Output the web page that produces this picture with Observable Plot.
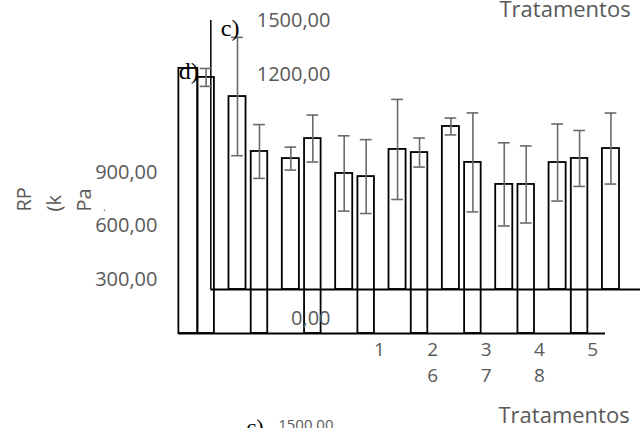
<!DOCTYPE html>
<html>
<head>
<meta charset="utf-8">
<script src="https://cdn.jsdelivr.net/npm/d3@7"></script>
<script src="https://cdn.jsdelivr.net/npm/@observablehq/plot@0.6"></script>
<style>
  html, body { margin: 0; padding: 0; background: #fff; }
  #chart svg { display: block; }
</style>
</head>
<body>
<div id="chart"></div>
<script>
// ---- data ----
// panel c) : front bars, RP (kPa)
const cValues = [1076, 730, 647, 781, 909, 586, 708, 786];
const cErrors = [330, 64, 210, 279, 47, 232, 215, 198];
// panel d) : back bars, RP (kPa)
const dValues = [1428, 1015, 1087, 875, 1009, 954, 831, 976];
const dErrors = [50, 150, 131, 206, 81, 276, 215, 156];
const dExtraValue = 1478;
// tick labels
const cTicks = [1500, 1200];
const dTicks = [900, 600, 300];
const zeroLabel = "0,00";
const xTickTop = ["1", "2", "3", "4", "5"];
const xTickBottom = ["", "6", "7", "8", ""];
const xTitle = "Tratamentos";
const yTitle = "RP\n(k\nPa";
const yTitleTail = ".";
const panelC = "c)";
const panelD = "d)";

// ---- layout ----
const W = 643, H = 428;
const SLOT_PX = 53.35, C0_PX = 237;      // group spacing, first c) bar centre
const UNIT_PX = 0.17933;                  // pixels per kPa
const C_BASE_PX = 289, D_BASE_PX = 333;   // baselines of the two panels
const dShift = -(D_BASE_PX - C_BASE_PX) / UNIT_PX;
const xpx = px => (px - C0_PX) / SLOT_PX;
const ypx = px => (C_BASE_PX - px) / UNIT_PX;
const fmt = v => d3.format(".2f")(v).replace(".", ",");

const barHalf = 0.16, dHalf = 0.155, dOffset = -0.588, capHalf = 0.11;
const cBars = cValues.map((v, i) => ({xc: i, x1: i - barHalf, x2: i + barHalf, y1: 0, y2: v, lo: v - cErrors[i], hi: v + cErrors[i]}));
const dBars = dValues.map((v, k) => {
  const xc = k + dOffset;
  return {xc, x1: xc - dHalf, x2: xc + dHalf, y1: dShift, y2: v + dShift, lo: v - dErrors[k] + dShift, hi: v + dErrors[k] + dShift};
});
const dExtra = {x1: dBars[0].x1 - 0.356, x2: dBars[0].x1, y1: dShift, y2: dExtraValue + dShift};
const errs = [...cBars, ...dBars];

const cAxisX = -0.5, cEndX = xpx(640), dEndX = xpx(605);
const tickFont = {fontFamily: "Open Sans", fontSize: 20, fill: "#595959"};
const xTickRows = [
  ...xTickTop.map((t, i) => ({t, x: i + 2.66, y: ypx(349)})),
  ...xTickBottom.map((t, i) => ({t, x: i + 2.66, y: ypx(375)}))
].filter(d => d.t);

const plot = Plot.plot({
  width: W, height: H,
  marginTop: 0, marginRight: 0, marginBottom: 0, marginLeft: 0,
  x: {type: "linear", domain: [xpx(0), xpx(W)], axis: null},
  y: {type: "linear", domain: [ypx(H), ypx(0)], axis: null},
  style: {background: "white", overflow: "visible"},
  marks: [
    // panel d) bars
    Plot.rect([dExtra, ...dBars], {x1: "x1", x2: "x2", y1: "y1", y2: "y2", fill: "none", stroke: "black", strokeWidth: 1.8}),
    Plot.ruleY([dShift], {x1: dExtra.x1, x2: dEndX, stroke: "black", strokeWidth: 1.8}),
    // panel c) bars
    Plot.rect(cBars, {x1: "x1", x2: "x2", y1: "y1", y2: "y2", fill: "none", stroke: "black", strokeWidth: 1.8}),
    Plot.ruleY([0], {x1: cAxisX, x2: cEndX, stroke: "black", strokeWidth: 1.8}),
    Plot.ruleX([cAxisX], {y1: 0, y2: 1500, stroke: "black", strokeWidth: 1.5}),
    // error bars
    Plot.ruleX(errs, {x: "xc", y1: "lo", y2: "hi", stroke: "#6b6b6b", strokeWidth: 1.6}),
    Plot.ruleY(errs, {y: "lo", x1: d => d.xc - capHalf, x2: d => d.xc + capHalf, stroke: "#6b6b6b", strokeWidth: 1.6}),
    Plot.ruleY(errs, {y: "hi", x1: d => d.xc - capHalf, x2: d => d.xc + capHalf, stroke: "#6b6b6b", strokeWidth: 1.6}),
    // y tick labels
    Plot.text(cTicks, {x: xpx(330), y: d => d, text: d => fmt(d), textAnchor: "end", ...tickFont}),
    Plot.text(dTicks, {x: xpx(157), y: d => d + dShift, text: d => fmt(d), textAnchor: "end", ...tickFont}),
    Plot.text([zeroLabel], {x: xpx(330), y: ypx(318), text: d => d, textAnchor: "end", ...tickFont}),
    // x tick labels
    Plot.text(xTickRows, {x: "x", y: "y", text: "t", ...tickFont, fontSize: 19}),
    // titles
    Plot.text([xTitle], {x: xpx(499), y: ypx(16), text: d => d, textAnchor: "start", lineAnchor: "bottom", ...tickFont, fontSize: 22}),
    Plot.text([xTitle], {x: xpx(498), y: ypx(422), text: d => d, textAnchor: "start", lineAnchor: "bottom", ...tickFont, fontSize: 22}),
    Plot.text([yTitle], {x: xpx(9), y: ypx(211), text: d => d, rotate: -90, textAnchor: "start", lineAnchor: "top", lineHeight: 1.5, ...tickFont}),
    Plot.text([yTitleTail], {x: xpx(104), y: ypx(207), text: d => d, ...tickFont, fontSize: 11}),
    // panel labels
    Plot.text([panelC], {x: cAxisX, y: 1500, dx: 10, dy: -2, text: d => d, textAnchor: "start", lineAnchor: "top", fontFamily: "Liberation Serif", fontSize: 24, fill: "black"}),
    Plot.text([panelD], {x: dExtra.x1, y: dExtra.y2, dy: 3, text: d => d, textAnchor: "start", fontFamily: "Liberation Serif", fontSize: 24, fill: "black"}),
    // next panel peeking in at the bottom
    Plot.text([panelC], {x: xpx(263), y: ypx(418), text: d => d, textAnchor: "end", lineAnchor: "top", fontFamily: "Liberation Serif", fontSize: 22, fill: "black"}),
    Plot.text([cTicks[0]], {x: xpx(333), y: ypx(419), text: d => fmt(d), textAnchor: "end", lineAnchor: "top", ...tickFont, fontSize: 15})
  ]
});
document.getElementById("chart").appendChild(plot);
</script>
</body>
</html>
